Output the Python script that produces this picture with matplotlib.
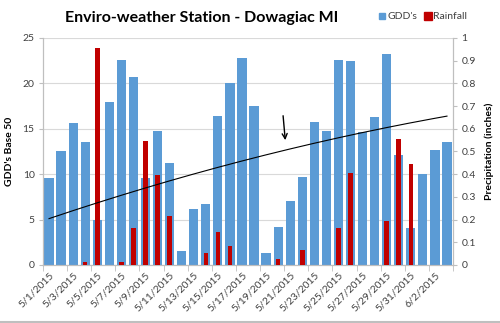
import matplotlib
matplotlib.use("Agg")
import matplotlib.pyplot as plt
import numpy as np
from matplotlib.lines import Line2D

dates = ["5/1/2015", "5/2/2015", "5/3/2015", "5/4/2015", "5/5/2015", "5/6/2015",
         "5/7/2015", "5/8/2015", "5/9/2015", "5/10/2015", "5/11/2015", "5/12/2015",
         "5/13/2015", "5/14/2015", "5/15/2015", "5/16/2015", "5/17/2015", "5/18/2015",
         "5/19/2015", "5/20/2015", "5/21/2015", "5/22/2015", "5/23/2015", "5/24/2015",
         "5/25/2015", "5/26/2015", "5/27/2015", "5/28/2015", "5/29/2015", "5/30/2015",
         "5/31/2015", "6/1/2015", "6/2/2015", "6/3/2015"]
gdd = [9.6, 12.6, 15.6, 13.5, 5.0, 17.9, 22.6, 20.7, 9.6, 14.8, 11.2, 1.5,
       6.2, 6.7, 16.4, 20.0, 22.8, 17.5, 1.3, 4.2, 7.1, 9.7, 15.7, 14.8,
       22.6, 22.5, 14.7, 16.3, 23.2, 12.1, 4.1, 10.0, 12.7, 13.5]
rain = [0, 0, 0, 0.015, 0.955, 0, 0.015, 0.165, 0.545, 0.395, 0.215, 0,
        0, 0.055, 0.145, 0.085, 0, 0, 0, 0.025, 0, 0.065, 0, 0,
        0.165, 0.405, 0, 0, 0.195, 0.555, 0.445, 0, 0, 0]
# trendline values (GDD scale) at a few day indices
trend_days = [0, 8, 16, 24, 33]
trend_vals = [5.1, 8.5, 11.45, 14.0, 16.4]

blue = "#5B9BD5"
red = "#C00000"
grid_c = "#D9D9D9"
txt_c = "#404040"
font = ["Lato", "DejaVu Sans"]
plt.rcParams["font.family"] = font

fig = plt.figure(figsize=(5.0, 3.23), dpi=100)
ax1 = fig.add_axes([0.086, 0.1796, 0.82, 0.7028])
ax2 = ax1.twinx()

x = np.arange(len(dates))
ax1.bar(x, gdd, width=0.77, color=blue, zorder=2)
ax1.set_xlim(-0.5, len(dates) - 0.5)
ax1.set_ylim(0, 25)
ax1.set_yticks(np.arange(0, 26, 5))
ax1.yaxis.grid(True, color=grid_c, lw=0.8, zorder=0)
ax1.set_axisbelow(True)

ax2.bar(x, rain, width=0.38, color=red, zorder=3)
ax2.set_ylim(0, 1)
ax2.set_yticks(np.round(np.arange(0, 1.01, 0.1), 1))
ax2.set_yticklabels(["0"] + [f"{v:.1f}" for v in np.arange(0.1, 0.95, 0.1)] + ["1"])

coef = np.polyfit(trend_days, trend_vals, 2)
tx = np.linspace(trend_days[0], trend_days[-1], 200)
ax2.plot(tx, np.polyval(coef, tx), color="black", lw=0.8, transform=ax1.transData, zorder=5)

ax2.annotate("", xy=(19.61, 13.44), xytext=(19.39, 16.74), xycoords=ax1.transData,
             textcoords=ax1.transData,
             arrowprops=dict(arrowstyle="->", color="black", lw=1.0, mutation_scale=9))

# x ticks
ax1.set_xticks(x[::2])
ax1.set_xticklabels(dates[::2], rotation=45, ha="right", va="top", rotation_mode="anchor")
ax1.set_xticks(np.arange(-0.5, len(dates), 2), minor=True)
ax1.tick_params(axis="x", which="major", length=0, pad=4, labelsize=7.5, colors=txt_c)
ax1.tick_params(axis="x", which="minor", length=4, color="#BFBFBF", direction="out")
ax1.tick_params(axis="y", length=3, color="#BFBFBF", labelsize=7.5, colors=txt_c, pad=3)
ax1.tick_params(axis="y", colors="#BFBFBF", labelcolor=txt_c)
ax2.tick_params(axis="y", length=3, color="#BFBFBF", labelsize=7.5, labelcolor=txt_c, pad=3)

for a in (ax1, ax2):
    a.spines["top"].set_visible(False)
    for s in ("left", "right", "bottom"):
        a.spines[s].set_color("#BFBFBF")
        a.spines[s].set_linewidth(0.8)

ax1.set_ylabel("GDD's Base 50", fontsize=7.5, fontweight="bold", color="black", labelpad=6)
ax2.set_ylabel("Precipitation (inches)", fontsize=7.5, fontweight="bold", color="black", labelpad=6)

fig.text(0.403, 0.944, "Enviro-weather Station - Dowagiac MI", ha="center", va="center",
         fontsize=11.5, fontweight="bold", color="black")

handles = [Line2D([0], [0], marker="s", ls="", color=blue, markersize=5),
           Line2D([0], [0], marker="s", ls="", color=red, markersize=6)]
fig.legend(handles, ["GDD's", "Rainfall"], loc="center", bbox_to_anchor=(0.845, 0.948),
           ncol=2, frameon=False, fontsize=7.5, handletextpad=0.1, columnspacing=0.6,
           handlelength=0.8, labelcolor=txt_c)

fig.add_artist(Line2D([0, 1], [0.004, 0.004], transform=fig.transFigure, color="#BFBFBF", lw=1.5))

fig.savefig("out.png", dpi=100)
